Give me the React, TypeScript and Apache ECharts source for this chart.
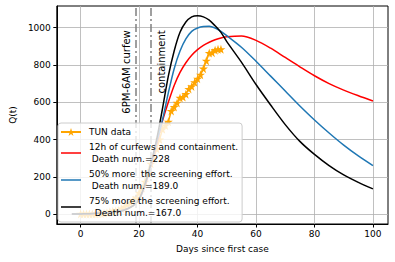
import { useEffect, useRef } from "react";
import * as echarts from "echarts";

// Model time grid (days since first case)
const modelDays = [-3, 0, 3, 6, 9, 12, 15, 18, 20, 22, 24, 26, 28, 30, 32, 34, 36, 38, 40, 42, 44, 46, 48, 50, 55, 60, 65, 70, 75, 80, 85, 90, 95, 100];
const curfewModel = [0, 1, 2, 4, 7, 12, 22, 45, 78, 150, 255, 375, 500, 600, 690, 760, 812, 852, 882, 905, 922, 935, 945, 951, 955, 932, 890, 840, 790, 742, 700, 665, 635, 607];
const screening50 = [0, 1, 2, 4, 7, 12, 22, 45, 78, 155, 260, 385, 505, 650, 780, 875, 940, 980, 998, 1006, 1007, 998, 980, 957, 895, 820, 740, 660, 580, 505, 435, 370, 312, 260];
const screening75 = [0, 1, 2, 4, 7, 12, 22, 45, 80, 160, 270, 400, 565, 740, 875, 975, 1030, 1058, 1064, 1058, 1040, 1010, 975, 925, 815, 695, 585, 480, 390, 320, 260, 210, 170, 135];

// Observed Tunisian data
const tunDays = [0, 1, 2, 3, 4, 5, 6, 7, 8, 9, 10, 11, 12, 13, 14, 15, 16, 17, 18, 19, 20, 21, 22, 23, 24, 25, 26, 27, 28, 29, 30, 31, 32, 33, 34, 35, 36, 37, 38, 39, 40, 41, 42, 43, 44, 45, 46, 47, 48];
const tunCases = [1, 1, 1, 1, 1, 1, 2, 2, 5, 7, 13, 16, 18, 20, 29, 39, 54, 60, 75, 89, 114, 140, 173, 220, 270, 300, 350, 400, 455, 475, 495, 553, 574, 596, 623, 628, 643, 671, 685, 707, 726, 747, 780, 822, 864, 866, 879, 884, 884];

const seriesNames = [
  "TUN data",
  "12h of curfews and containment.\n Death num.=228",
  "50% more  the screening effort.\n Death num.=189.0",
  "75% more the screening effort.\n  Death num.=167.0",
];
const seriesColors = ["#ffa500", "#ff0000", "#1f77b4", "#000000"];

const eventDays = [19, 24];
const eventLabels = ["6PM-6AM curfew", "containment"];
const eventLabelAnchors = [
  [15.6, 986],
  [27.8, 986],
];

const xTicks = [0, 20, 40, 60, 80, 100];
const yTicks = [0, 200, 400, 600, 800, 1000];

const FONT = "DejaVu Sans";
const STAR = "path://M12,0 L14.9,8.6 L24,8.6 L16.6,14 L19.4,22.8 L12,17.4 L4.6,22.8 L7.4,14 L0,8.6 L9.1,8.6 Z";
const LINE_ICON = "path://M0,0 L20,0 L20,1.5 L0,1.5 Z";

export default function App() {
  const ref = useRef<HTMLDivElement>(null);
  useEffect(() => {
    document.body.style.margin = "0";
    const chart = echarts.init(ref.current!, null, { renderer: "svg" });
    const model = [curfewModel, screening50, screening75];
    chart.setOption({
      animation: false,
      textStyle: { fontFamily: FONT },
      grid: { left: 54, right: 7, top: 6, bottom: 38, show: true, borderColor: "#000", borderWidth: 1, backgroundColor: "transparent" },
      xAxis: {
        type: "value",
        min: -8.15,
        max: 105.15,
        name: "Days since first case",
        nameLocation: "middle",
        nameGap: 20,
        nameTextStyle: { fontSize: 9, color: "#000", fontFamily: FONT },
        axisLine: { onZero: false, lineStyle: { color: "#000", width: 1 } },
        axisTick: { show: true, length: 3.5, customValues: xTicks, lineStyle: { color: "#000" } },
        axisLabel: { fontSize: 9, color: "#000", margin: 5, customValues: xTicks, fontFamily: FONT, formatter: (v: number) => String(v) },
        splitLine: { show: true, lineStyle: { color: "#b0b0b0", width: 0.8 } },
      },
      yAxis: {
        type: "value",
        min: -53.2,
        max: 1116.2,
        name: "Q(t)",
        nameLocation: "middle",
        nameGap: 37,
        nameTextStyle: { fontSize: 9, color: "#000", fontFamily: FONT },
        axisLine: { show: true, onZero: false, lineStyle: { color: "#000", width: 1 } },
        axisTick: { show: true, length: 3.5, customValues: yTicks, lineStyle: { color: "#000" } },
        axisLabel: { fontSize: 9, color: "#000", margin: 6, customValues: yTicks, fontFamily: FONT, formatter: (v: number) => String(v) },
        splitLine: { show: true, lineStyle: { color: "#b0b0b0", width: 0.8 } },
      },
      legend: {
        orient: "vertical",
        left: 58,
        top: 123,
        z: 20,
        padding: [3, 4, 3, 2],
        itemWidth: 20,
        itemHeight: 10,
        itemGap: 3,
        backgroundColor: "rgba(255,255,255,0.8)",
        borderColor: "#cccccc",
        borderWidth: 1,
        borderRadius: 3,
        textStyle: { fontSize: 9, lineHeight: 12, color: "#000", fontFamily: FONT, padding: [0, 0, 0, 3] },
        data: seriesNames.map((n, i) => (i === 0 ? { name: n } : { name: n, icon: LINE_ICON })),
      },
      series: [
        {
          name: seriesNames[0],
          type: "line",
          data: tunDays.map((d, i) => [d, tunCases[i]]),
          symbol: STAR,
          symbolSize: 9,
          showAllSymbol: true,
          lineStyle: { color: seriesColors[0], width: 1.5 },
          itemStyle: { color: seriesColors[0] },
          z: 2,
        },
        ...model.map((vals, k) => ({
          name: seriesNames[k + 1],
          type: "line",
          data: modelDays.map((d, i) => [d, vals[i]]),
          symbol: "none",
          smooth: 0.3,
          lineStyle: { color: seriesColors[k + 1], width: 1.5 },
          itemStyle: { color: seriesColors[k + 1] },
          z: 3,
        })),
        {
          name: "events",
          type: "line",
          data: [],
          z: 2,
          markLine: {
            silent: true,
            symbol: "none",
            label: { show: false },
            lineStyle: { color: "#808080", width: 1.5, type: [8, 3, 2, 3] },
            data: eventDays.map((d) => ({ xAxis: d })),
          },
        },
      ],
    });
    const graphics = eventLabels.map((t, i) => {
      const p = chart.convertToPixel({ gridIndex: 0 }, eventLabelAnchors[i]) as number[];
      return {
        type: "text",
        x: p[0],
        y: p[1],
        rotation: Math.PI / 2,
        z: 10,
        style: { text: t, fontSize: 10, fontFamily: FONT, fill: "#000", textAlign: "right", verticalAlign: "middle" },
      };
    });
    chart.setOption({ graphic: graphics });
    return () => chart.dispose();
  }, []);
  return <div ref={ref} style={{ width: 395, height: 262 }} />;
}
